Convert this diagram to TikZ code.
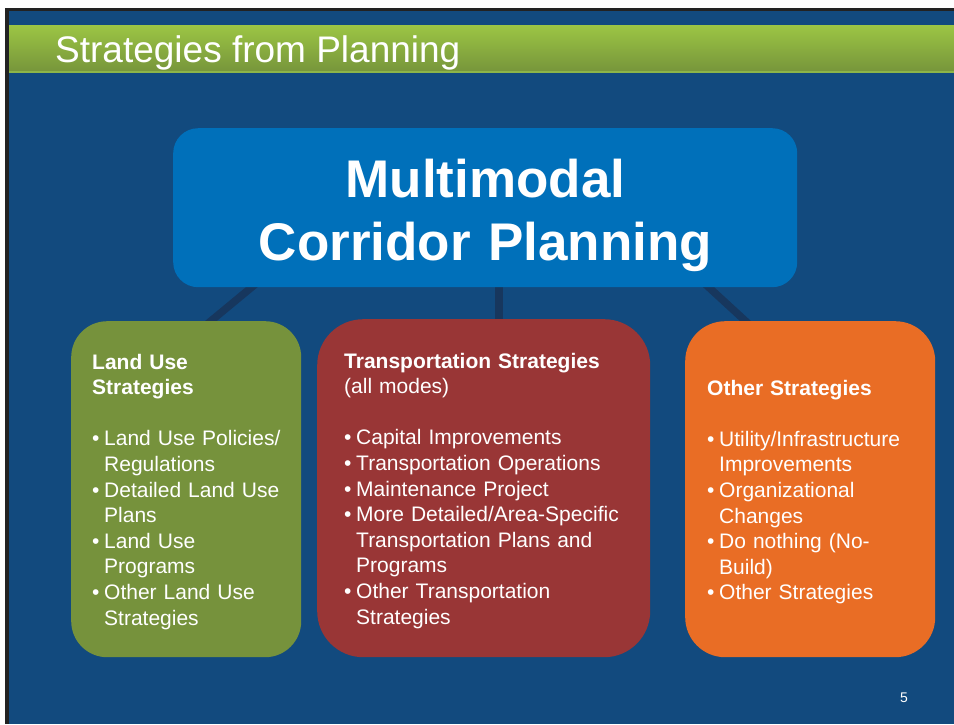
\documentclass[tikz,border=0pt]{standalone}
\usepackage{fontspec}
\setmainfont{Liberation Sans}
\definecolor{bgblue}{HTML}{124A7E}
\definecolor{edgedark}{HTML}{222222}
\definecolor{titletop}{HTML}{9CC544}
\definecolor{titlebot}{HTML}{77963B}
\definecolor{titleline}{HTML}{8DB548}
\definecolor{mainblue}{HTML}{0070BA}
\definecolor{linkblue}{HTML}{17375E}
\definecolor{boxgreen}{HTML}{76923C}
\definecolor{boxred}{HTML}{993636}
\definecolor{boxorange}{HTML}{E96D25}
\newcommand{\bitem}[1]{\makebox[12pt][l]{\textbullet}#1}
\newcommand{\citem}[1]{\hspace*{12pt}#1}
\begin{document}
\begin{tikzpicture}[x=1pt,y=-1pt,
  catbox/.style={rounded corners=#1, inner sep=0pt, anchor=north west},
  link/.style={draw=linkblue, line width=7.5pt},
  bodytext/.style={text=white, inner sep=0pt, anchor=base west, text width=300pt, align=left,
    font=\fontsize{21}{25.6}\selectfont},
  maintext/.style={text=white, inner sep=0pt, anchor=base, text width=560pt, align=center,
    font=\fontsize{53}{63}\selectfont\bfseries},
  titletext/.style={text=white, inner sep=0pt, anchor=base west, font=\fontsize{37}{40}\selectfont},
  pagenum/.style={text=white, inner sep=0pt, anchor=base, font=\fontsize{14}{16}\selectfont}]
% page and frame
\useasboundingbox (0,0) rectangle (954,724);
\fill[white] (0,0) rectangle (954,724);
\fill[edgedark] (5,8) rectangle (954,724);
\fill[bgblue] (9,11) rectangle (954,724);
% title bar
\shade[top color=titletop, bottom color=titlebot] (9,25) rectangle (954,71);
\fill[titleline] (9,71) rectangle (954,73);
\node[titletext] (title) at (55,62) {Strategies from Planning};
% connector coordinates
\coordinate (l1) at (258,282);
\coordinate (l2) at (200,330);
\coordinate (m1) at (499,282);
\coordinate (m2) at (499,325);
\coordinate (r1) at (703,282);
\coordinate (r2) at (752,327);
\draw[link] (l1) -- (l2);
\draw[link] (m1) -- (m2);
\draw[link] (r1) -- (r2);
% boxes
\node[catbox=25pt, fill=mainblue, minimum width=624pt, minimum height=159pt] (main) at (173,128) {};
\node[catbox=36pt, fill=boxgreen, minimum width=230pt, minimum height=336pt] (landuse) at (71,321) {};
\node[catbox=46pt, fill=boxred, minimum width=333pt, minimum height=338pt] (transport) at (317,319) {};
\node[catbox=40pt, fill=boxorange, minimum width=250pt, minimum height=336pt] (other) at (685,321) {};
% texts
\node[maintext] (maintitle) at (485.5,197) {Multimodal\\Corridor Planning};
\node[bodytext] (landtext) at (92,369) {\textbf{Land Use}\\\textbf{Strategies}\\[25.6pt]
\bitem{Land Use Policies/}\\\citem{Regulations}\\
\bitem{Detailed Land Use}\\\citem{Plans}\\
\bitem{Land Use}\\\citem{Programs}\\
\bitem{Other Land Use}\\\citem{Strategies}};
\node[bodytext] (transtext) at (344,368) {\textbf{Transportation Strategies}\\(all modes)\\[25.6pt]
\bitem{Capital Improvements}\\
\bitem{Transportation Operations}\\
\bitem{Maintenance Project}\\
\bitem{More Detailed/Area-Specific}\\\citem{Transportation Plans and}\\\citem{Programs}\\
\bitem{Other Transportation}\\\citem{Strategies}};
\node[bodytext] (othertext) at (707,395) {\textbf{Other Strategies}\\[25.6pt]
\bitem{Utility/Infrastructure}\\\citem{Improvements}\\
\bitem{Organizational}\\\citem{Changes}\\
\bitem{Do nothing (No-}\\\citem{Build)}\\
\bitem{Other Strategies}};
\node[pagenum] (page) at (904,702) {5};
\end{tikzpicture}
\end{document}
